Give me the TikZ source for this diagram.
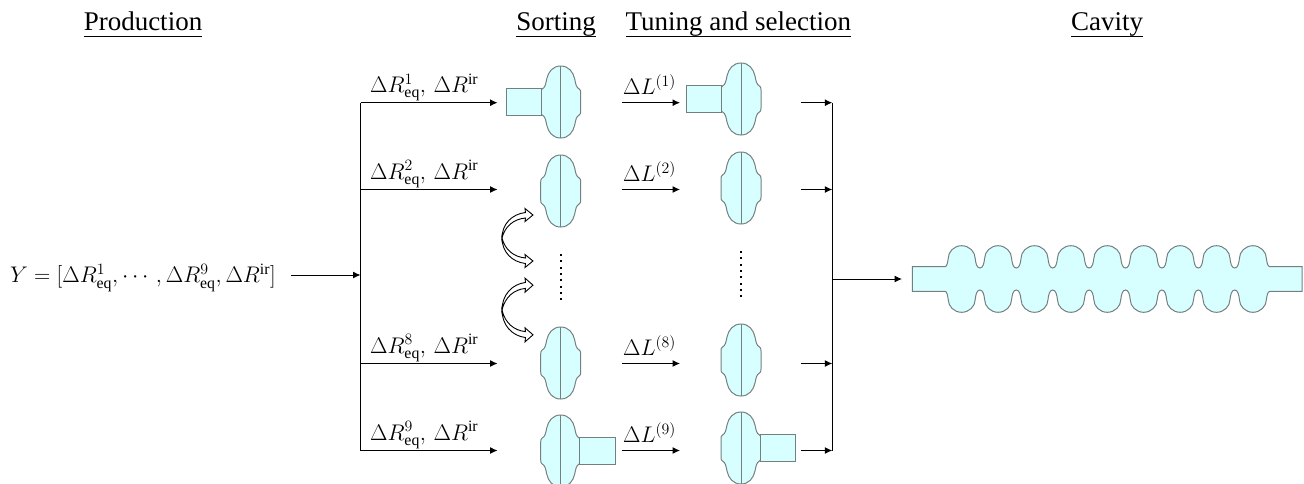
\documentclass[tikz,border=0pt]{standalone}
\usepackage{fix-cm}
\usepackage{amsmath}
\usepackage{fontspec}
\setmainfont{Liberation Serif}
\usetikzlibrary{arrows.meta}
\definecolor{cavfill}{HTML}{D8FFFF}
\definecolor{cavline}{HTML}{74807F}
\newcommand{\headline}[1]{\underline{\raisebox{0pt}[0pt][3pt]{#1}}}
\tikzset{
	x=1pt,y=-1pt,
	cavshape/.style={draw=cavline,fill=cavfill,line width=1pt},
	flangebox/.style={cavshape,rectangle,minimum width=35.5pt,minimum height=27pt,inner sep=0pt},
	link/.style={line width=1pt,-{Latex[length=7.5pt,width=7pt]}},
	bare/.style={line width=1pt},
	headtext/.style={font=\fontsize{27}{30}\selectfont,inner sep=0pt,anchor=base},
	labeltext/.style={font=\fontsize{22.6}{28}\selectfont,inner sep=0pt,anchor=base west},
	dotrow/.style={line width=2pt,dash pattern=on 2pt off 4.3pt},
	halfcell/.pic={
		\draw[cavshape] (0,-36) .. controls (8,-36) and (12.5,-30) .. (14,-23) .. controls (15,-18) and (15.5,-14.5) .. (18.5,-13) .. controls (19.7,-12.4) and (20,-11) .. (20,-9) -- (20,9)
			.. controls (20,11) and (19.7,12.4) .. (18.5,13) .. controls (15.5,14.5) and (15,18) .. (14,23) .. controls (12.5,30) and (8,36) .. (0,36)
			.. controls (-8,36) and (-12.5,30) .. (-14,23) .. controls (-15,18) and (-15.5,14.5) .. (-18.5,13) .. controls (-19.7,12.4) and (-20,11) .. (-20,9) -- (-20,-9)
			.. controls (-20,-11) and (-19.7,-12.4) .. (-18.5,-13) .. controls (-15.5,-14.5) and (-15,-18) .. (-14,-23) .. controls (-12.5,-30) and (-8,-36) .. (0,-36) -- cycle;
		\draw[cavline,line width=1pt] (0,-36) -- (0,36);
	},
	swaphalf/.pic={
		\draw[line width=0.9pt,fill=white] (0,0) .. controls (0,-14) and (10,-24) .. (23.5,-25.5) -- (23,-29.5) -- (31,-23) -- (23,-16.5) -- (23.5,-20) .. controls (12,-19) and (3,-12) .. (0,0) -- cycle;
	}
}
\begin{document}
\begin{tikzpicture}
	\useasboundingbox (0,0) rectangle (1304,483);

	% column titles
	\node[headtext] (prod) at (143,30) {\headline{Production}};
	\node[headtext] (sort) at (556,30) {\headline{Sorting}};
	\node[headtext] (tune) at (738.3,30) {\headline{Tuning and selection}};
	\node[headtext] (cav) at (1107,30) {\headline{Cavity}};

	% single cells
	\foreach \X/\Ya/\Yb in {1/102/99,2/191/188,8/363/360,9/451/448} {
		\pic at (560.7,\Ya) {halfcell};
		\pic at (741,\Yb) {halfcell};
	}
	\coordinate (sc1) at (560.7,102);
	\coordinate (tc1) at (741,99);
	\coordinate (sc9) at (560.7,451);
	\coordinate (tc9) at (741,448);
	\node[flangebox] (fl1) at ([xshift=-36.8pt]sc1) {};
	\node[flangebox] (fl2) at ([xshift=-36.8pt]tc1) {};
	\node[flangebox] (fl3) at ([xshift=36.8pt]sc9) {};
	\node[flangebox] (fl4) at ([xshift=36.8pt]tc9) {};

	% feed lines
	\coordinate (in) at (291,275);
	\coordinate (feed) at (360.5,275);
	\coordinate (join) at (832.3,279);
	\coordinate (out) at (902,279);
	\foreach \X/\Y in {1/102.7,2/189.5,8/363.5,9/450.5} {
		\coordinate (fa\X) at (360.5,\Y);
		\coordinate (fb\X) at (497.5,\Y);
		\coordinate (la\X) at (621.5,\Y);
		\coordinate (lb\X) at (680,\Y);
		\coordinate (ca\X) at (801,\Y);
		\coordinate (cb\X) at (832.3,\Y);
		\draw[link] (fa\X) -- (fb\X);
		\draw[link] (la\X) -- (lb\X);
		\draw[link] (ca\X) -- (cb\X);
		\node[labeltext] (rl\X) at ([xshift=9.5pt,yshift=10.4pt]fa\X) {$\Delta R_{\mathrm{eq}}^{\X},\,\Delta R^{\mathrm{ir}}$};
		\node[labeltext] (ll\X) at ([xshift=1.5pt,yshift=8pt]la\X) {$\Delta L^{(\X)}$};
	}
	\draw[bare] (fa1) -- (fa9);
	\draw[bare] (cb1) -- (cb9);
	\draw[link] (in) -- (feed);
	\draw[link] (join) -- (out);
	\node[labeltext] (ylab) at (10,282.7) {$Y=[\Delta R_{\mathrm{eq}}^{1},\cdots,\Delta R_{\mathrm{eq}}^{9},\Delta R^{\mathrm{ir}}]$};

	% dots between the cells
	\coordinate (da) at (560.7,254);
	\coordinate (db) at (560.7,301);
	\coordinate (dc) at (741,251);
	\coordinate (dd) at (741,298);
	\draw[dotrow] (da) -- (db);
	\draw[dotrow] (dc) -- (dd);

	% swap arrows
	\coordinate (sw1) at (502,238);
	\coordinate (sw2) at (502,310);
	\pic at (sw1) {swaphalf};
	\pic[yscale=-1] at (sw1) {swaphalf};
	\pic[yscale=1.08] at (sw2) {swaphalf};
	\pic[yscale=-1.08] at (sw2) {swaphalf};

	% nine cell cavity
	\draw[cavshape] (912.3,266.7) -- (945,266.7) .. controls (947,266.7) and (947.7,262) .. (948.2,258.5) .. controls (948.2,251.7) and (954,245.7) .. (961.7,245.7)
		\foreach \I in {0,...,7} {
			.. controls ({961.7+36.4*\I+7.5},245.7) and ({961.7+36.4*\I+13.5},251.7) .. ({961.7+36.4*\I+13.5},258.5)
			.. controls ({961.7+36.4*\I+14},263) and ({961.7+36.4*\I+15},268) .. ({961.7+36.4*\I+18.2},268)
			.. controls ({961.7+36.4*\I+21.4},268) and ({961.7+36.4*\I+22.4},263) .. ({961.7+36.4*\I+22.9},258.5)
			.. controls ({961.7+36.4*\I+22.9},251.7) and ({961.7+36.4*\I+28.9},245.7) .. ({961.7+36.4*\I+36.4},245.7)
		}
		.. controls (1260.4,245.7) and (1266.4,251.7) .. (1266.4,258.5) .. controls (1266.9,262) and (1267.5,266.7) .. (1270,266.7) -- (1302,266.7) -- (1302,291.3) -- (1270,291.3)
		.. controls (1267.5,291.3) and (1266.9,296) .. (1266.4,299.5) .. controls (1266.4,306.3) and (1260.4,312.3) .. (1252.9,312.3)
		\foreach \I in {8,...,1} {
			.. controls ({961.7+36.4*\I-7.5},312.3) and ({961.7+36.4*\I-13.5},306.3) .. ({961.7+36.4*\I-13.5},299.5)
			.. controls ({961.7+36.4*\I-14},295) and ({961.7+36.4*\I-15},290) .. ({961.7+36.4*\I-18.2},290)
			.. controls ({961.7+36.4*\I-21.4},290) and ({961.7+36.4*\I-22.4},295) .. ({961.7+36.4*\I-22.9},299.5)
			.. controls ({961.7+36.4*\I-22.9},306.3) and ({961.7+36.4*\I-28.9},312.3) .. ({961.7+36.4*\I-36.4},312.3)
		}
		.. controls (954,312.3) and (948.2,306.3) .. (948.2,299.5) .. controls (947.7,296) and (947,291.3) .. (945,291.3) -- (912.3,291.3) -- cycle;
\end{tikzpicture}
\end{document}
